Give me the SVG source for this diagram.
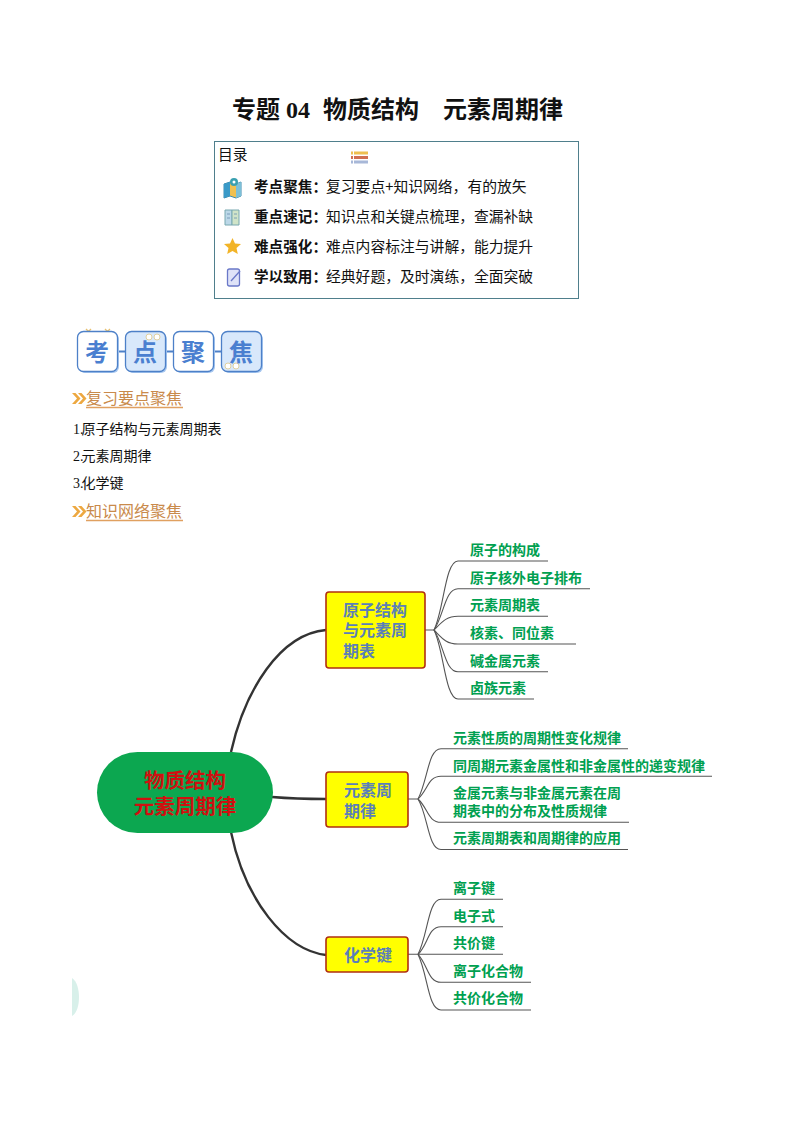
<svg xmlns="http://www.w3.org/2000/svg" width="794" height="1123" viewBox="0 0 794 1123">
<style>
text{font-family:"Liberation Serif","Noto Sans CJK SC",serif;}
.sans{font-family:"Noto Sans CJK SC",sans-serif;}
.toc{font-size:14.8px;fill:#111;font-family:"Noto Sans CJK SC",sans-serif;}
.tocb{font-size:14.600px;fill:#111;font-weight:700;font-family:"Noto Sans CJK SC",sans-serif;}
.body{font-size:14px;fill:#111;}
.head{font-size:16px;fill:#c98a4b;font-family:"Noto Sans CJK SC",sans-serif;}
.rule{stroke:#e0a060;stroke-width:1.3;fill:none;}
.chev{fill:#eda840;}
.card{stroke:#4d80c8;stroke-width:1.3;}
.cardt{font-size:24px;font-weight:700;fill:#4a7fd0;text-anchor:middle;font-family:"Noto Sans CJK SC",sans-serif;}
.link{stroke:#4d80c8;stroke-width:2;}
.main{fill:none;stroke:#333;stroke-width:2.4;}
.thin{fill:none;stroke:#555;stroke-width:1.1;}
.node{fill:#ffff00;stroke:#b03010;stroke-width:1.6;}
.nodet{font-size:16px;font-weight:700;fill:#5b7fb8;font-family:"Noto Sans CJK SC",sans-serif;}
.leaf{font-size:14px;font-weight:700;fill:#00a050;font-family:"Noto Sans CJK SC",sans-serif;}
.roott{font-size:20.5px;font-weight:700;fill:#d01010;text-anchor:middle;font-family:"Noto Sans CJK SC",sans-serif;}
</style>
<rect width="794" height="1123" fill="#fff"/>

<text x="232" y="118" font-size="24" font-weight="700" fill="#111" xml:space="preserve"><tspan class="sans">专题</tspan> 04 <tspan class="sans" x="323">物质结构</tspan><tspan class="sans" x="443">元素周期律</tspan></text>

<g id="toc">
<rect x="214.500" y="141.500" width="364" height="157" fill="#fff" stroke="#4f7f8c" stroke-width="1"/>
<text x="218" y="160" class="toc">目录</text>
<g id="toc-list-icon">
<rect x="351" y="151.500" width="2" height="3" fill="#eec050"/><rect x="354" y="151.500" width="14" height="3" fill="#eec050"/>
<rect x="351" y="156" width="2" height="3" fill="#d07050"/><rect x="354" y="156" width="14" height="3" fill="#d07050"/>
<rect x="351" y="160.500" width="2" height="3" fill="#a8b8d8"/><rect x="354" y="160.500" width="14" height="3" fill="#a8b8d8"/>
</g>
<g id="icon-map">
<path d="M224 184l6-2 6 2 5-2v14l-5 2-6-2-6 2z" fill="#f0c050" stroke="#3a8ab0" stroke-width="1"/>
<path d="M224 184l6-2v14l-6 2z" fill="#3a9ac8"/>
<path d="M236 184l5-2v14l-5 2z" fill="#7cc0d8"/>
<circle cx="234" cy="182" r="4" fill="#3aa0b0"/>
<circle cx="234" cy="182" r="1.500" fill="#fff"/>
</g>
<g id="icon-book">
<path d="M225 210h7v15h-7z" fill="#bcd8e8" stroke="#78a8b0"/>
<path d="M232 210h7v15h-7z" fill="#d0e4c8" stroke="#78a8b0"/>
<path d="M234 214h3M234 218h3M227 214h3M227 218h3" stroke="#6a90b0" stroke-width="0.800"/>
</g>
<g id="icon-star">
<path d="M232.500 238l2.500 5.500 6 .6-4.500 4 1.300 6-5.300-3.100-5.300 3.100 1.300-6-4.500-4 6-.6z" fill="#f2b428"/>
</g>
<g id="icon-note">
<rect x="227.500" y="269" width="12" height="17" rx="2" fill="#dfe3f8" stroke="#6a78c8" stroke-width="1.300"/>
<path d="M231 281l9-10" stroke="#6a78c8" stroke-width="1.300"/>
</g>
<text x="254" y="192" class="tocb">考点聚焦：</text><text x="326" y="192" class="toc">复习要点+知识网络，有的放矢</text>
<text x="254" y="222" class="tocb">重点速记：</text><text x="326" y="222" class="toc">知识点和关键点梳理，查漏补缺</text>
<text x="254" y="252" class="tocb">难点强化：</text><text x="326" y="252" class="toc">难点内容标注与讲解，能力提升</text>
<text x="254" y="282" class="tocb">学以致用：</text><text x="326" y="282" class="toc">经典好题，及时演练，全面突破</text>
</g>

<g id="banner">
<path d="M86 329l5 5m0-5l-5 5M105 329l5 5m0-5l-5 5" stroke="#e8c070" stroke-width="1.300"/>
<line class="link" x1="117" y1="351.500" x2="126" y2="351.500"/>
<line class="link" x1="165" y1="351.500" x2="174" y2="351.500"/>
<line class="link" x1="213" y1="351.500" x2="222" y2="351.500"/>
<rect x="79" y="333" width="40" height="40" rx="6" fill="#a8c8f0"/>
<rect x="127" y="333" width="40" height="40" rx="6" fill="#a8c8f0"/>
<rect x="175" y="333" width="40" height="40" rx="6" fill="#a8c8f0"/>
<rect x="223" y="333" width="40" height="40" rx="6" fill="#a8c8f0"/>
<rect class="card" x="77.500" y="331.500" width="40" height="40" rx="6" fill="#fff"/>
<rect class="card" x="125.500" y="331.500" width="40" height="40" rx="6" fill="#d8e8fb"/>
<rect class="card" x="173.500" y="331.500" width="40" height="40" rx="6" fill="#fff"/>
<rect class="card" x="221.500" y="331.500" width="40" height="40" rx="6" fill="#d8e8fb"/>
<circle cx="149" cy="337" r="3" fill="#fff" stroke="#e0d0a0"/><circle cx="157" cy="337" r="3" fill="#fff" stroke="#e0d0a0"/>
<circle cx="228" cy="366" r="3" fill="#fff" stroke="#e0d0a0"/><circle cx="236" cy="366" r="3" fill="#fff" stroke="#e0d0a0"/>
<text class="cardt" x="97" y="361">考</text>
<text class="cardt" x="145" y="361">点</text>
<text class="cardt" x="193" y="361">聚</text>
<text class="cardt" x="241" y="361">焦</text>
</g>

<g id="head1">
<path class="chev" d="M72 393h3.500l5 5.500-5 5.500H72l5-5.500zM78 393h3.500l5 5.500-5 5.500H78l5-5.500z"/>
<text class="head" x="86" y="404">复习要点聚焦</text>
<line class="rule" x1="86" y1="407.500" x2="183" y2="407.500"/>
</g>
<text class="body" x="73" y="434">1.</text><text class="body sans" x="81.500" y="434">原子结构与元素周期表</text>
<text class="body" x="73" y="461">2.</text><text class="body sans" x="81.500" y="461">元素周期律</text>
<text class="body" x="73" y="488">3.</text><text class="body sans" x="81.500" y="488">化学键</text>
<g id="head2">
<path class="chev" d="M72 506h3.500l5 5.500-5 5.500H72l5-5.500zM78 506h3.500l5 5.500-5 5.500H78l5-5.500z"/>
<text class="head" x="86" y="517">知识网络聚焦</text>
<line class="rule" x1="86" y1="520.500" x2="183" y2="520.500"/>
</g>

<g id="connectors">
<path class="main" d="M231 752C245 690 280 634 326 630"/>
<path class="main" d="M272 797C290 798.500 308 799 326 799"/>
<path class="main" d="M231 832C245 900 285 950 326 955"/>
<path class="thin" d="M425 630H434C444 610 445 561 458 561H548"/>
<path class="thin" d="M434 630C444 615 445 588.700 458 588.700H590"/>
<path class="thin" d="M434 630C442 622 446 616.300 458 616.300H548"/>
<path class="thin" d="M434 630C442 638 446 644 458 644H576"/>
<path class="thin" d="M434 630C444 645 445 671.700 458 671.700H548"/>
<path class="thin" d="M434 630C444 650 445 699 458 699H534"/>
<path class="thin" d="M408 799H418C428 780 428 748.700 441 748.700H628"/>
<path class="thin" d="M418 799C428 790 428 776.300 441 776.300H712"/>
<path class="thin" d="M418 799C428 808 428 822.300 441 822.300H629"/>
<path class="thin" d="M418 799C428 815 428 849.500 441 849.500H628"/>
<path class="thin" d="M408 954.300H418C428 935 428 899.300 441 899.300H503"/>
<path class="thin" d="M418 954.300C428 945 428 926.700 441 926.700H503"/>
<path class="thin" d="M418 954.300H503"/>
<path class="thin" d="M418 954.300C428 965 428 982.300 441 982.300H531"/>
<path class="thin" d="M418 954.300C428 975 428 1010 441 1010H531"/>
</g>

<g id="root">
<rect x="97" y="752" width="176" height="81" rx="40.500" fill="#0ca750"/>
<text class="roott" x="185" y="788">物质结构</text>
<text class="roott" x="185" y="814">元素周期律</text>
</g>
<g id="n1">
<rect class="node" x="326" y="592" width="99" height="76" rx="3"/>
<text class="nodet" x="343" y="616">原子结构</text>
<text class="nodet" x="343" y="636">与元素周</text>
<text class="nodet" x="343" y="657">期表</text>
</g>
<g id="n2">
<rect class="node" x="326" y="772" width="82" height="55" rx="3"/>
<text class="nodet" x="344" y="796">元素周</text>
<text class="nodet" x="344" y="817">期律</text>
</g>
<g id="n3">
<rect class="node" x="326" y="937" width="82" height="35" rx="3"/>
<text class="nodet" x="344" y="961">化学键</text>
</g>

<g id="leaves1">
<text class="leaf" x="470" y="555">原子的构成</text>
<text class="leaf" x="470" y="583">原子核外电子排布</text>
<text class="leaf" x="470" y="610">元素周期表</text>
<text class="leaf" x="470" y="638">核素、同位素</text>
<text class="leaf" x="470" y="666">碱金属元素</text>
<text class="leaf" x="470" y="693">卤族元素</text>
</g>
<g id="leaves2">
<text class="leaf" x="453" y="743">元素性质的周期性变化规律</text>
<text class="leaf" x="453" y="771">同周期元素金属性和非金属性的递变规律</text>
<text class="leaf" x="453" y="798">金属元素与非金属元素在周</text>
<text class="leaf" x="453" y="816">期表中的分布及性质规律</text>
<text class="leaf" x="453" y="843">元素周期表和周期律的应用</text>
</g>
<g id="leaves3">
<text class="leaf" x="453" y="893">离子键</text>
<text class="leaf" x="453" y="921">电子式</text>
<text class="leaf" x="453" y="948">共价键</text>
<text class="leaf" x="453" y="976">离子化合物</text>
<text class="leaf" x="453" y="1003">共价化合物</text>
</g>
<path d="M72 978C77 981 79 990 79 997C79 1005 77 1013 72 1016Z" fill="#d8f0ea"/>
</svg>
